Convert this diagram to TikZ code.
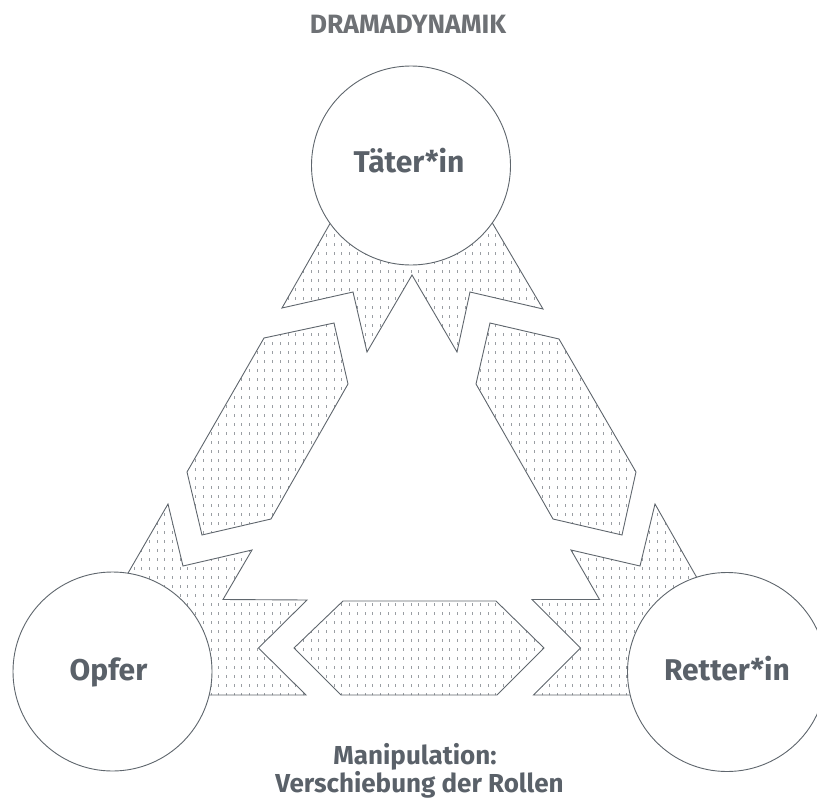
\documentclass[tikz,border=0pt]{standalone}
\usepackage{fontspec}
\setmainfont{Fira Sans}
\usetikzlibrary{patterns}
\pgfdeclarepatternformonly{vdash}{\pgfpoint{-1pt}{-1pt}}{\pgfpoint{8.7pt}{10pt}}{\pgfpoint{7.7pt}{9pt}}{%
  \pgfsetlinewidth{0.8pt}%
  \pgfpathmoveto{\pgfpoint{3pt}{3pt}}%
  \pgfpathlineto{\pgfpoint{3pt}{5.6pt}}%
  \pgfusepath{stroke}}
\definecolor{outl}{HTML}{5F666D}
\definecolor{txt}{HTML}{5A6169}
\definecolor{ttl}{HTML}{6E7175}
\definecolor{dotc}{HTML}{9A9EA3}
\begin{document}
\begin{tikzpicture}[x=1pt,y=-1pt,
  shp/.style={draw=outl, line width=0.9pt, line join=miter, pattern=vdash, pattern color=dotc},
  circ/.style={circle, draw=outl, line width=0.9pt, fill=white, inner sep=0pt},
  lbl/.style={anchor=base, text=txt, font=\fontsize{30}{36}\selectfont\bfseries, inner sep=0pt},
  ttlstyle/.style={anchor=base, text=ttl, font=\fontsize{26.5}{30}\selectfont\bfseries, inner sep=0pt},
  sub/.style={anchor=base, text=txt, font=\fontsize{26}{30}\selectfont\bfseries, inner sep=0pt}]
\useasboundingbox (0,0) rectangle (817,798);
% top corner piece
\draw[shp] (340,206) -- (282,308) -- (353,292) -- (367,352) -- (412,275) -- (457,352)
  -- (470,292) -- (543,309) -- (480,202) -- cycle;
% left corner piece
\draw[shp] (120,587) -- (168,504) -- (183,566) -- (252,550) -- (223,599.5) -- (307,600)
  -- (258.5,648) -- (306,695) -- (190,695) -- cycle;
% right corner piece
\draw[shp] (705,592) -- (655,504) -- (640,566) -- (571,550) -- (599.5,599.5) -- (532,599.5)
  -- (580.5,648) -- (533.5,695) -- (650,695) -- cycle;
% left hexagon
\draw[shp] (264,338) -- (334,323) -- (348,384) -- (271,519) -- (202,535) -- (187,472) -- cycle;
% right hexagon
\draw[shp] (490,323) -- (559,339) -- (636,472) -- (622,535) -- (553,519) -- (476,384) -- cycle;
% bottom hexagon
\draw[shp] (343,601) -- (496,601) -- (544,648) -- (497,695) -- (341,695) -- (294,648) -- cycle;
% circles
\node (T) [circ, minimum size=199pt] at (411,165.5) {};
\node (O) [circ, minimum size=199pt] at (112.5,671.5) {};
\node (R) [circ, minimum size=199pt] at (727,672) {};
% texts
\node (title) [ttlstyle] at (408,33) {DRAMADYNAMIK};
\node (Tt) [lbl] at (409,172) {Täter*in};
\node (Ot) [lbl] at (108.5,680) {Opfer};
\node (Rt) [lbl] at (727,680) {Retter*in};
\node (m1) [sub] at (415,764) {Manipulation:};
\node (m2) [sub] at (419.5,792) {Verschiebung der Rollen};
\end{tikzpicture}
\end{document}
